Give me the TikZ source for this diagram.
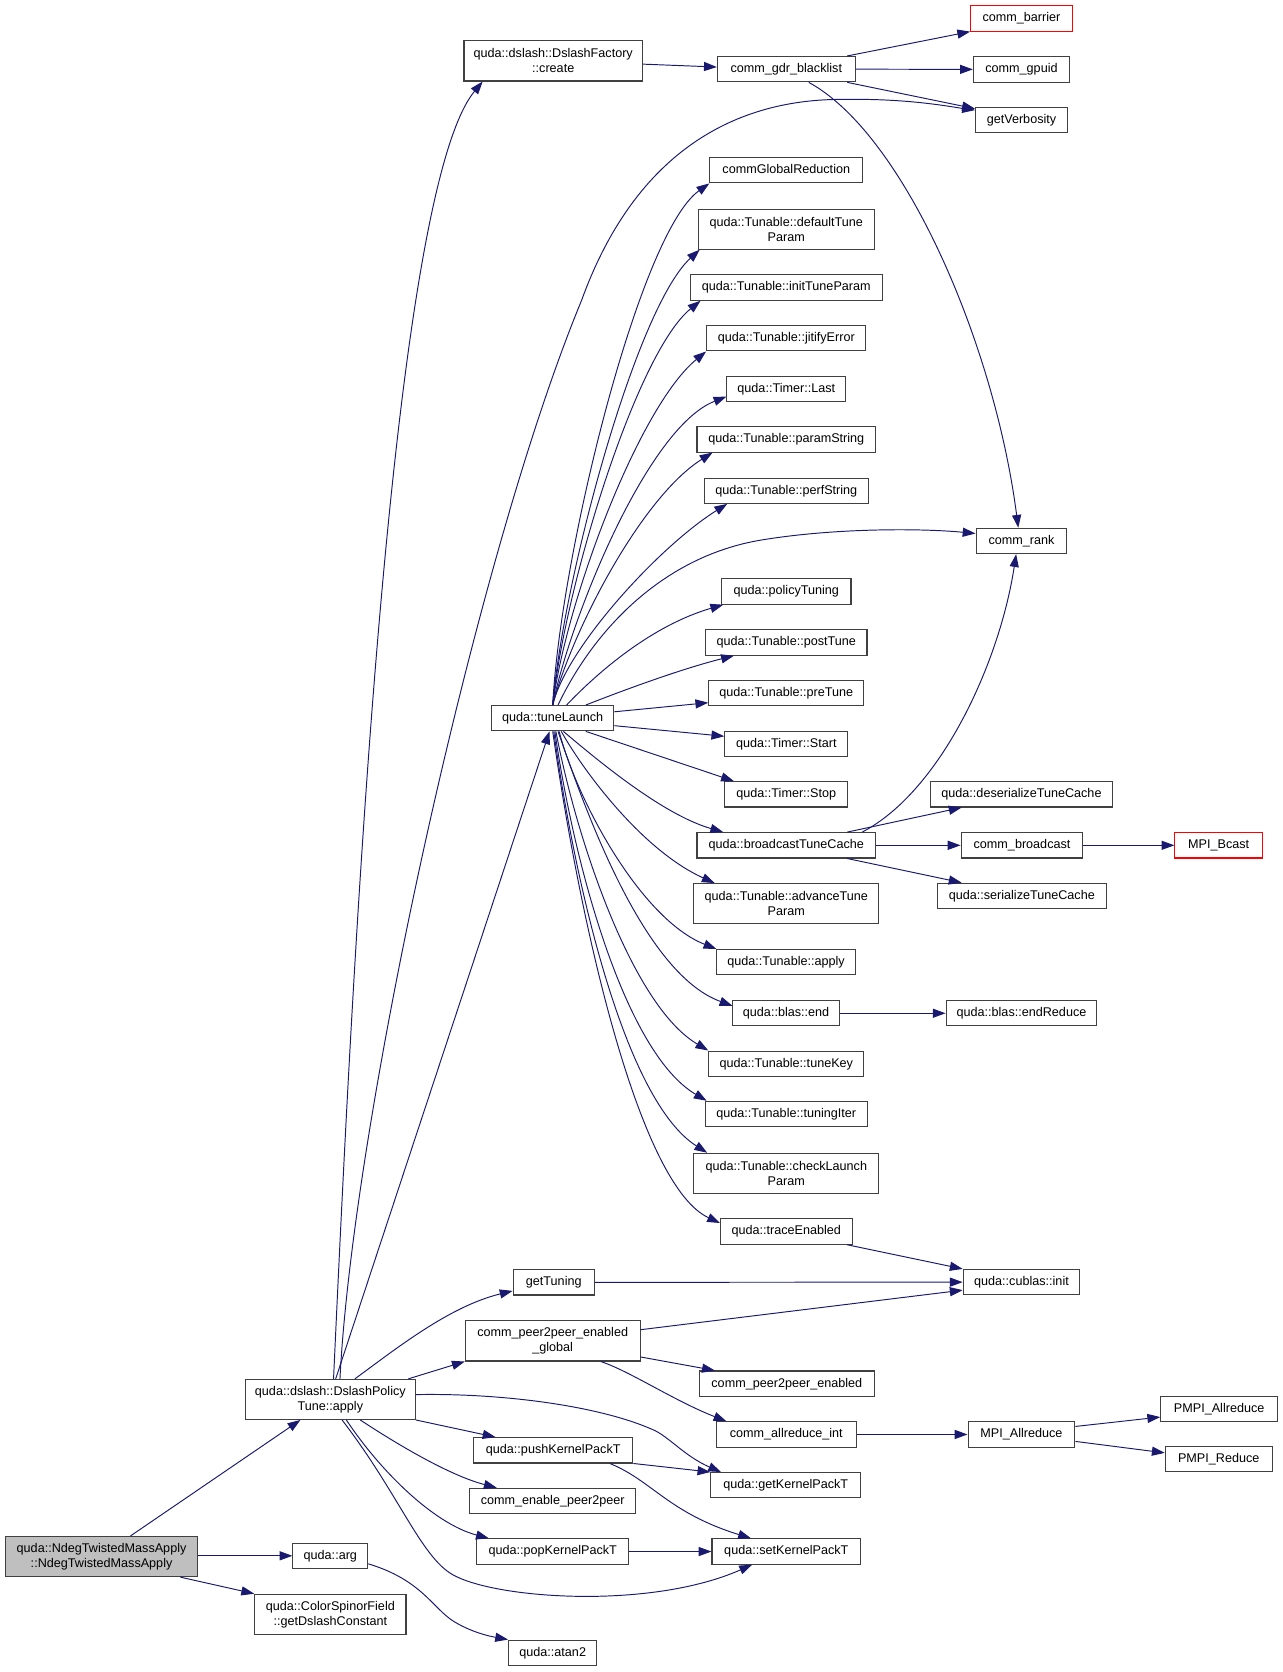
\documentclass[tikz,border=0pt]{standalone}
\usepackage{fontspec}
\setmainfont{Liberation Sans}
\usepackage{tikz}
\usetikzlibrary{arrows.meta}

\definecolor{edgeblue}{HTML}{191970}
\definecolor{boxgray}{HTML}{404040}
\definecolor{rootfill}{HTML}{BFBFBF}
\definecolor{truncred}{HTML}{FF0000}

\begin{document}
\begin{tikzpicture}[
      x=1pt, y=-1pt,
      box/.style={rectangle, draw=boxgray, line width=1pt, fill=white, font=\fontsize{11.8}{14}\selectfont, inner sep=0pt, text height=8.6pt, text depth=2.4pt, minimum height=23.7pt},
      boxtwo/.style={rectangle, draw=boxgray, line width=1pt, fill=white, font=\fontsize{11.8}{14}\selectfont, inner sep=0pt, align=center, minimum height=37.5pt},
      root/.style={fill=rootfill},
      trunc/.style={draw=truncred},
      arrow/.style={-{Triangle[length=12pt,width=8.5pt]}, draw=edgeblue, line width=0.9pt}
    ]
      \fill[white] (0,0) rectangle (1200,1564);
      \useasboundingbox (0,0) rectangle (1200,1564);

      % Boxes
      \node[boxtwo, root, minimum width=180pt] (ndeg) at (95,1456) {quda::NdegTwistedMassApply\\::NdegTwistedMassApply};
      \node[boxtwo, minimum width=159pt] (dpt) at (309,1309) {quda::dslash::DslashPolicy\\Tune::apply};
      \node[box, minimum width=70pt] (arg) at (309,1455.3) {quda::arg};
      \node[boxtwo, minimum width=141.5pt] (gdc) at (309,1510) {quda::ColorSpinorField\\::getDslashConstant};
      \node[box, minimum width=82.5pt] (atan2) at (517,1546) {quda::atan2};

      \node[boxtwo, minimum width=167pt] (create) at (517.5,57) {quda::dslash::DslashFactory\\::create};
      \node[box, minimum width=114.5pt] (tl) at (517,671.8) {quda::tuneLaunch};
      \node[box, minimum width=76pt] (gtun) at (518,1199.5) {getTuning};
      \node[boxtwo, minimum width=163.5pt] (p2pg) at (517,1254.3) {comm\_peer2peer\_enabled\\\_global};
      \node[box, minimum width=149pt] (push) at (517.5,1356.6) {quda::pushKernelPackT};
      \node[box, minimum width=155.7pt] (cep) at (517,1404) {comm\_enable\_peer2peer};
      \node[box, minimum width=142.5pt] (pop) at (517,1451.3) {quda::popKernelPackT};

      \node[box, minimum width=129pt] (gdr) at (735.5,64.7) {comm\_gdr\_blacklist};
      \node[box, minimum width=143pt] (cgr) at (735.5,159.2) {commGlobalReduction};
      \node[boxtwo, minimum width=165pt] (dtp) at (735.5,214.3) {quda::Tunable::defaultTune\\Param};
      \node[box, minimum width=179.5pt] (itp) at (735.5,269) {quda::Tunable::initTuneParam};
      \node[box, minimum width=149pt] (jit) at (735.5,316.4) {quda::Tunable::jitifyError};
      \node[box, minimum width=111pt] (last) at (735.5,364) {quda::Timer::Last};
      \node[box, minimum width=167pt] (pstr) at (735.5,411) {quda::Tunable::paramString};
      \node[box, minimum width=153.5pt] (perf) at (735.5,459) {quda::Tunable::perfString};
      \node[box, minimum width=121pt] (pol) at (735.5,553.3) {quda::policyTuning};
      \node[box, minimum width=151pt] (post) at (735.5,601) {quda::Tunable::postTune};
      \node[box, minimum width=145pt] (pre) at (735.5,648.3) {quda::Tunable::preTune};
      \node[box, minimum width=115pt] (start) at (735.5,695.7) {quda::Timer::Start};
      \node[box, minimum width=115pt] (stop) at (735.5,743) {quda::Timer::Stop};
      \node[box, minimum width=167pt] (btc) at (735.5,790.7) {quda::broadcastTuneCache};
      \node[boxtwo, minimum width=173pt] (atp) at (735.5,845.3) {quda::Tunable::advanceTune\\Param};
      \node[box, minimum width=129.4pt] (tapply) at (735.3,900) {quda::Tunable::apply};
      \node[box, minimum width=99.4pt] (bend) at (735.3,947.8) {quda::blas::end};
      \node[box, minimum width=145pt] (tkey) at (735.5,995) {quda::Tunable::tuneKey};
      \node[box, minimum width=152pt] (titer) at (735.5,1042) {quda::Tunable::tuningIter};
      \node[boxtwo, minimum width=173pt] (clp) at (735.5,1097.5) {quda::Tunable::checkLaunch\\Param};
      \node[box, minimum width=123pt] (trace) at (735.5,1152) {quda::traceEnabled};
      \node[box, minimum width=163.6pt] (p2p) at (736,1294.3) {comm\_peer2peer\_enabled};
      \node[box, minimum width=131pt] (ari) at (735.5,1341.8) {comm\_allreduce\_int};
      \node[box, minimum width=140pt] (gkp) at (735,1389.3) {quda::getKernelPackT};
      \node[box, minimum width=139pt] (skp) at (735.5,1451.3) {quda::setKernelPackT};

      \node[box, trunc, minimum width=95pt] (barrier) at (955.5,17.2) {comm\_barrier};
      \node[box, minimum width=90pt] (gpuid) at (955.5,64.9) {comm\_gpuid};
      \node[box, minimum width=86pt] (verb) at (955.5,112) {getVerbosity};
      \node[box, minimum width=85pt] (rank) at (955.5,506) {comm\_rank};
      \node[box, minimum width=171pt] (deser) at (955.5,743) {quda::deserializeTuneCache};
      \node[box, minimum width=114pt] (cbc) at (956,790.7) {comm\_broadcast};
      \node[box, minimum width=157.6pt] (ser) at (955.8,838) {quda::serializeTuneCache};
      \node[box, minimum width=141pt] (endred) at (955.5,947.8) {quda::blas::endReduce};
      \node[box, minimum width=109pt] (cinit) at (955.5,1199.3) {quda::cublas::init};
      \node[box, minimum width=100pt] (mar) at (955.5,1341.8) {MPI\_Allreduce};

      \node[box, trunc, minimum width=82pt] (bcast) at (1140,790.7) {MPI\_Bcast};
      \node[box, minimum width=109.3pt] (pmar) at (1140.4,1318) {PMPI\_Allreduce};
      \node[box, minimum width=100pt] (pmr) at (1140,1365) {PMPI\_Reduce};

      % Arrows
      \draw[arrow] ([xshift=27pt]ndeg.north) -- ([xshift=-28pt]dpt.south);
      \draw[arrow] (ndeg.east |- arg.west) -- (arg.west);
      \draw[arrow] ([xshift=73.7pt]ndeg.south) -- (gdc.north west);
      \draw[arrow] ([yshift=-7.5pt]arg.east) .. controls (395,1478) and (405,1505) .. (425,1517) .. controls (440,1526) and (455,1530) .. (atan2.north west);

      \draw[arrow] ([xshift=3pt]dpt.north) .. controls (330,900) and (365,180) .. ([xshift=18pt]create.south west);
      \draw[arrow] ([xshift=9pt]dpt.north) .. controls (330,1050) and (445,520) .. (544,281) .. controls (595,140) and (690,92) .. (790,93) .. controls (850,92) and (890,100) .. ([yshift=9pt]verb.west);
      \draw[arrow] ([xshift=5pt]dpt.north) -- ([xshift=-3pt]tl.south);
      \draw[arrow] ([xshift=23pt]dpt.north) .. controls (370,1262) and (420,1222) .. ([yshift=-8pt]gtun.west);
      \draw[arrow] ([xshift=73pt]dpt.north) -- (p2pg.south west);
      \draw[arrow] ([yshift=4.5pt]dpt.east) .. controls (470,1303) and (560,1315) .. (610,1337) .. controls (625,1343) and (640,1362) .. ([xshift=10pt]gkp.north west);
      \draw[arrow] (dpt.south east) -- ([xshift=21pt]push.north west);
      \draw[arrow] ([xshift=28pt]dpt.south) .. controls (370,1350) and (420,1380) .. ([xshift=26pt]cep.north west);
      \draw[arrow] ([xshift=15pt]dpt.south) .. controls (355,1375) and (405,1425) .. ([xshift=12pt]pop.north west);
      \draw[arrow] ([xshift=11pt]dpt.south) .. controls (375,1400) and (395,1460) .. (426.6,1474.6) .. controls (470,1496) and (610,1505) .. ([xshift=-32pt]skp.south);

      \draw[arrow] ([yshift=-3pt]create.east) -- ([yshift=2pt]gdr.west);
      \draw[arrow] ([xshift=-8pt]gdr.north east) -- (barrier.south west);
      \draw[arrow] (gdr.east) -- (gpuid.west);
      \draw[arrow] ([xshift=-8pt]gdr.south east) -- ([yshift=-2pt]verb.north west);
      \draw[arrow] ([xshift=21pt]gdr.south) .. controls (845,125) and (930,320) .. ([xshift=-3pt]rank.north);

      \draw[arrow] (tl.north) .. controls (524,520) and (598,218) .. (cgr.south west);
      \draw[arrow] (tl.north) .. controls (527,540) and (595,288) .. ([xshift=2pt]dtp.south west);
      \draw[arrow] (tl.north) .. controls (528,550) and (595,330) .. ([xshift=10pt]itp.south west);
      \draw[arrow] (tl.north) .. controls (530,560) and (598,380) .. (jit.south west);
      \draw[arrow] (tl.north) .. controls (533,580) and (605,400) .. ([yshift=-7pt]last.west);
      \draw[arrow] (tl.north) .. controls (535,590) and (600,465) .. ([xshift=15pt]pstr.south west);
      \draw[arrow] (tl.north) .. controls (530,605) and (618,510) .. ([xshift=22pt]perf.south west);
      \draw[arrow] ([xshift=5pt]tl.north) .. controls (555,590) and (620,520) .. (713,505) .. controls (780,494) and (860,494) .. ([yshift=7pt]rank.west);
      \draw[arrow] ([xshift=13pt]tl.north) .. controls (560,628) and (610,585) .. ([xshift=2pt]pol.south west);
      \draw[arrow] ([xshift=31pt]tl.north) .. controls (590,643) and (640,625) .. ([xshift=27pt]post.south west);
      \draw[arrow] ([yshift=6pt]tl.east) -- ([yshift=-9pt]pre.west);
      \draw[arrow] ([yshift=-7pt]tl.east) -- ([yshift=7pt]start.west);
      \draw[arrow] ([xshift=31pt]tl.south) -- ([xshift=9pt]stop.north west);
      \draw[arrow] ([xshift=10pt]tl.south) .. controls (560,712) and (620,762) .. ([xshift=25pt]btc.north west);
      \draw[arrow] ([xshift=8pt]tl.south) .. controls (545,720) and (600,795) .. ([xshift=20pt]atp.north west);
      \draw[arrow] ([xshift=6pt]tl.south) .. controls (540,750) and (600,860) .. (tapply.north west);
      \draw[arrow] ([xshift=5pt]tl.south) .. controls (545,750) and (600,910) .. ([yshift=7pt]bend.west);
      \draw[arrow] ([xshift=3pt]tl.south) .. controls (538,780) and (590,940) .. (tkey.north west);
      \draw[arrow] ([xshift=2pt]tl.south) .. controls (537,810) and (585,985) .. ([xshift=2pt]titer.north west);
      \draw[arrow] ([xshift=1pt]tl.south) .. controls (538,830) and (585,1030) .. ([xshift=13pt]clp.north west);
      \draw[arrow] (tl.south) .. controls (545,880) and (600,1110) .. ([yshift=8pt]trace.west);

      \draw[arrow] ([xshift=-13pt]btc.north east) .. controls (880,740) and (935,620) .. ([xshift=-5pt]rank.south);
      \draw[arrow] ([xshift=-27pt]btc.north east) -- ([xshift=30pt]deser.south west);
      \draw[arrow] (btc.east) -- (cbc.west);
      \draw[arrow] ([xshift=-27pt]btc.south east) -- ([xshift=23pt]ser.north west);
      \draw[arrow] (cbc.east) -- (bcast.west);
      \draw[arrow] (bend.east) -- (endred.west);

      \draw[arrow] ([xshift=-5pt]trace.south east) -- (cinit.north west);
      \draw[arrow] (gtun.east) -- (cinit.west);
      \draw[arrow] ([yshift=10.5pt]p2pg.east) -- ([yshift=-7.5pt]cinit.west);
      \draw[arrow] ([yshift=-15pt]p2pg.east) -- ([xshift=15pt]p2p.north west);
      \draw[arrow] ([xshift=45pt]p2pg.south) .. controls (590,1283) and (630,1310) .. ([xshift=10pt]ari.north west);
      \draw[arrow] (ari.east) -- (mar.west);
      \draw[arrow] ([yshift=7.5pt]mar.east) -- ([yshift=-7.5pt]pmar.west);
      \draw[arrow] ([yshift=-6.5pt]mar.east) -- ([yshift=6pt]pmr.west);

      \draw[arrow] (push.south east) -- (gkp.north west);
      \draw[arrow] ([xshift=-22pt]push.south east) .. controls (610,1385) and (625,1415) .. ([xshift=-33pt]skp.north);
      \draw[arrow] (pop.east) -- (skp.west);
    \end{tikzpicture}
\end{document}
